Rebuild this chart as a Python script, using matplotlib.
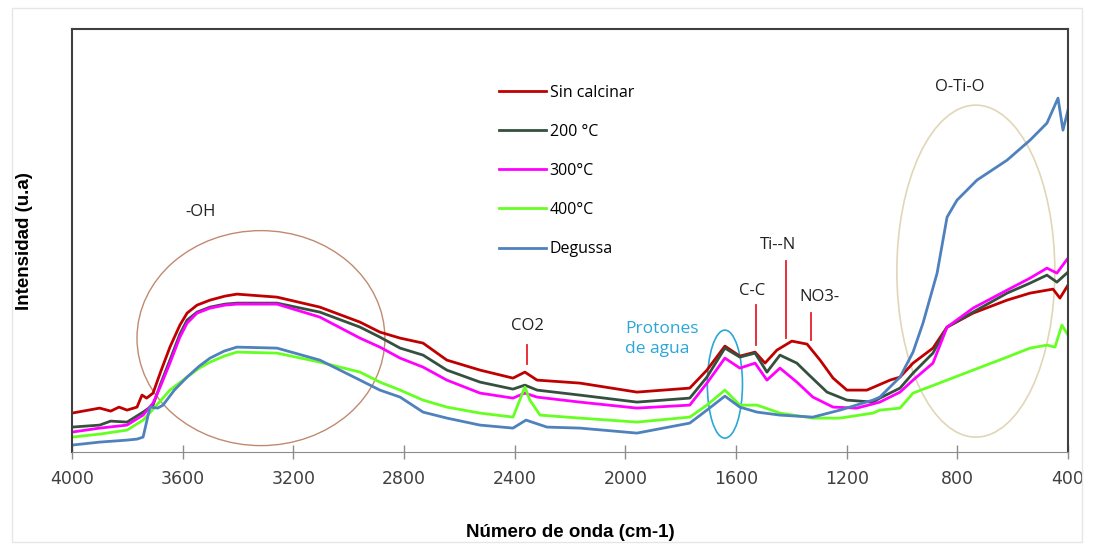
"""Espectros FTIR de TiO2 a distintas temperaturas de calcinación."""

import matplotlib
matplotlib.use('Agg')
import matplotlib.pyplot as plt
from matplotlib.patches import Ellipse, Rectangle

# Número de onda (cm-1) e intensidad (u.a.) de cada espectro
wn_sin = [4000, 3900, 3860, 3830, 3801, 3765, 3747, 3730, 3707, 3680, 3646, 3610, 3584,
          3548, 3501, 3447, 3404, 3259, 3104, 2959, 2887, 2814, 2731, 2645, 2525,
          2406, 2363, 2319, 2164, 1958, 1767, 1705, 1640, 1586, 1531, 1495, 1452,
          1398, 1343, 1296, 1249, 1199, 1127, 1043, 1007, 960, 888, 837, 743, 620,
          537, 454, 429, 400]
int_sin = [39, 44, 41, 45, 42, 45, 57, 54, 59, 80, 105, 127, 139,
           147, 152, 156, 158, 155, 145, 130, 120, 114, 109, 92, 82,
           74, 80, 72, 69, 60, 64, 82, 106, 96, 100, 89, 102,
           111, 108, 92, 74, 62, 62, 72, 75, 89, 104, 125, 139, 152,
           159, 163, 154, 167]

wn_200 = [4000, 3900, 3860, 3801, 3743, 3707, 3680, 3646, 3610, 3584, 3548, 3501,
          3447, 3404, 3259, 3104, 2959, 2887, 2814, 2731, 2645, 2525, 2406, 2363,
          2319, 2164, 1958, 1767, 1705, 1640, 1586, 1531, 1488, 1441, 1380, 1343,
          1271, 1199, 1105, 1080, 1007, 960, 888, 837, 743, 620, 537, 476, 440, 400]
int_200 = [25, 27, 31, 30, 40, 47, 68, 92, 118, 132, 140, 145,
           148, 149, 149, 140, 125, 115, 104, 97, 82, 70, 63, 67,
           62, 57, 50, 54, 75, 104, 95, 99, 80, 97, 89, 79,
           60, 52, 50, 54, 64, 79, 99, 125, 140, 159, 169, 177, 170, 180]

wn_300 = [4000, 3900, 3801, 3743, 3707, 3680, 3646, 3610, 3584, 3548, 3501, 3447,
          3404, 3259, 3104, 2959, 2887, 2814, 2731, 2645, 2525, 2406, 2363, 2319,
          2164, 1958, 1767, 1705, 1640, 1586, 1531, 1488, 1441, 1380, 1322, 1249,
          1163, 1080, 1007, 960, 888, 837, 743, 620, 537, 476, 440, 400]
int_300 = [20, 24, 27, 37, 49, 66, 89, 115, 129, 139, 144, 147,
           148, 148, 135, 114, 105, 94, 85, 72, 59, 54, 59, 55,
           50, 44, 47, 69, 94, 84, 89, 72, 84, 70, 55, 45,
           44, 50, 60, 72, 89, 125, 144, 162, 174, 184, 179, 194]

wn_400 = [4000, 3900, 3801, 3743, 3700, 3646, 3584, 3540, 3501, 3450, 3404, 3259,
          3104, 2959, 2887, 2814, 2731, 2645, 2525, 2406, 2363, 2345, 2308, 2164,
          1958, 1767, 1705, 1640, 1586, 1524, 1441, 1322, 1224, 1105, 1080, 1007,
          960, 837, 743, 620, 537, 476, 447, 422, 400]
int_400 = [15, 18, 22, 32, 45, 62, 75, 84, 90, 96, 100, 99,
           90, 80, 70, 62, 52, 45, 39, 35, 65, 52, 37, 34,
           30, 35, 47, 62, 47, 47, 39, 34, 34, 39, 42, 44,
           59, 72, 82, 95, 104, 107, 105, 127, 117]

wn_deg = [4000, 3900, 3801, 3765, 3743, 3718, 3690, 3671, 3630, 3584, 3540, 3501,
          3450, 3404, 3259, 3104, 2959, 2887, 2814, 2731, 2645, 2525, 2406, 2359,
          2283, 2164, 1958, 1767, 1705, 1640, 1586, 1524, 1441, 1322, 1224, 1105,
          1080, 1007, 960, 924, 873, 837, 801, 729, 620, 537, 476, 436, 418, 400]
int_deg = [7, 10, 12, 13, 15, 45, 44, 47, 62, 75, 86, 94,
           101, 105, 104, 92, 72, 62, 55, 40, 34, 27, 24, 32,
           25, 24, 19, 29, 42, 56, 45, 40, 37, 35, 42, 52,
           55, 75, 100, 129, 179, 235, 252, 272, 292, 312, 329, 354, 322, 342]

series = [
    ('Sin calcinar', wn_sin, int_sin, '#c00000'),
    ('200 °C', wn_200, int_200, '#35503f'),
    ('300°C', wn_300, int_300, '#ff00ff'),
    ('400°C', wn_400, int_400, '#66ff22'),
    ('Degussa', wn_deg, int_deg, '#4f81bd'),
]

fig = plt.figure(figsize=(10.94, 5.5), dpi=100)
fig.patches.append(Rectangle((0.011, 0.015), 0.978, 0.97, transform=fig.transFigure,
                             fill=False, edgecolor='#e6e6e6', linewidth=1))
ax = fig.add_axes([0.0658, 0.178, 0.9104, 0.769])

for name, wn, inten, color in series:
    ax.plot(wn, inten, color=color, linewidth=2, label=name)

ax.set_xlim(4000, 400)
ax.set_ylim(0, 423)
ax.set_xticks(range(4000, 399, -400))
ax.set_yticks([])
ax.tick_params(axis='x', direction='inout', length=10, width=1, color='#8c8c8c',
               labelsize=12.5, labelcolor='#404040', pad=8)
for side in ('left', 'top', 'right'):
    ax.spines[side].set_color('#404040')
    ax.spines[side].set_linewidth(1.5)
ax.spines['bottom'].set_color('#8c8c8c')

ax.set_xlabel('Número de onda (cm-1)', fontsize=13.5, fontweight='bold', labelpad=26,
              family='Liberation Sans')
ax.set_ylabel('Intensidad (u.a)', fontsize=13.5, fontweight='bold', labelpad=28,
              family='Liberation Sans')

ax.legend(loc='upper left', bbox_to_anchor=(0.421, 0.888), frameon=False,
          handlelength=2.9, handletextpad=0.25, labelspacing=1.45,
          borderpad=0, prop={'family': 'Open Sans', 'size': 11.5})

# zonas marcadas con elipses
ax.add_patch(Ellipse((3317, 114), 896, 215, fill=False, edgecolor='#c08a70', linewidth=1))
ax.add_patch(Ellipse((1640, 68), 127, 108, fill=False, edgecolor='#2aa7d8', linewidth=1.2))
ax.add_patch(Ellipse((733, 181), 571, 332, fill=False, edgecolor='#e2d6b8', linewidth=1.2))

txt = dict(fontsize=12, color='#222222', ha='center', va='center', family='Open Sans')
ax.text(3537, 240, '-OH', **txt)
ax.text(2355, 126, 'CO2', **txt)
ax.text(1542, 161, 'C-C', **txt)
ax.text(1448, 207, 'Ti--N', **txt)
ax.text(1300, 155, 'NO3-', **txt)
ax.text(790, 365, 'O-Ti-O', **txt)
ax.text(2001, 113, 'Protones\nde agua', fontsize=12.5, color='#2aa7d8', ha='left',
        va='center', linespacing=1.35, family='Open Sans')

# marcas de las bandas
for x, y0, y1 in [(2355, 88, 107), (1528, 107, 147), (1419, 114, 191), (1329, 112, 139)]:
    ax.plot([x, x], [y0, y1], color='#e8202a', linewidth=1.3)

fig.savefig('out.png', dpi=100)
